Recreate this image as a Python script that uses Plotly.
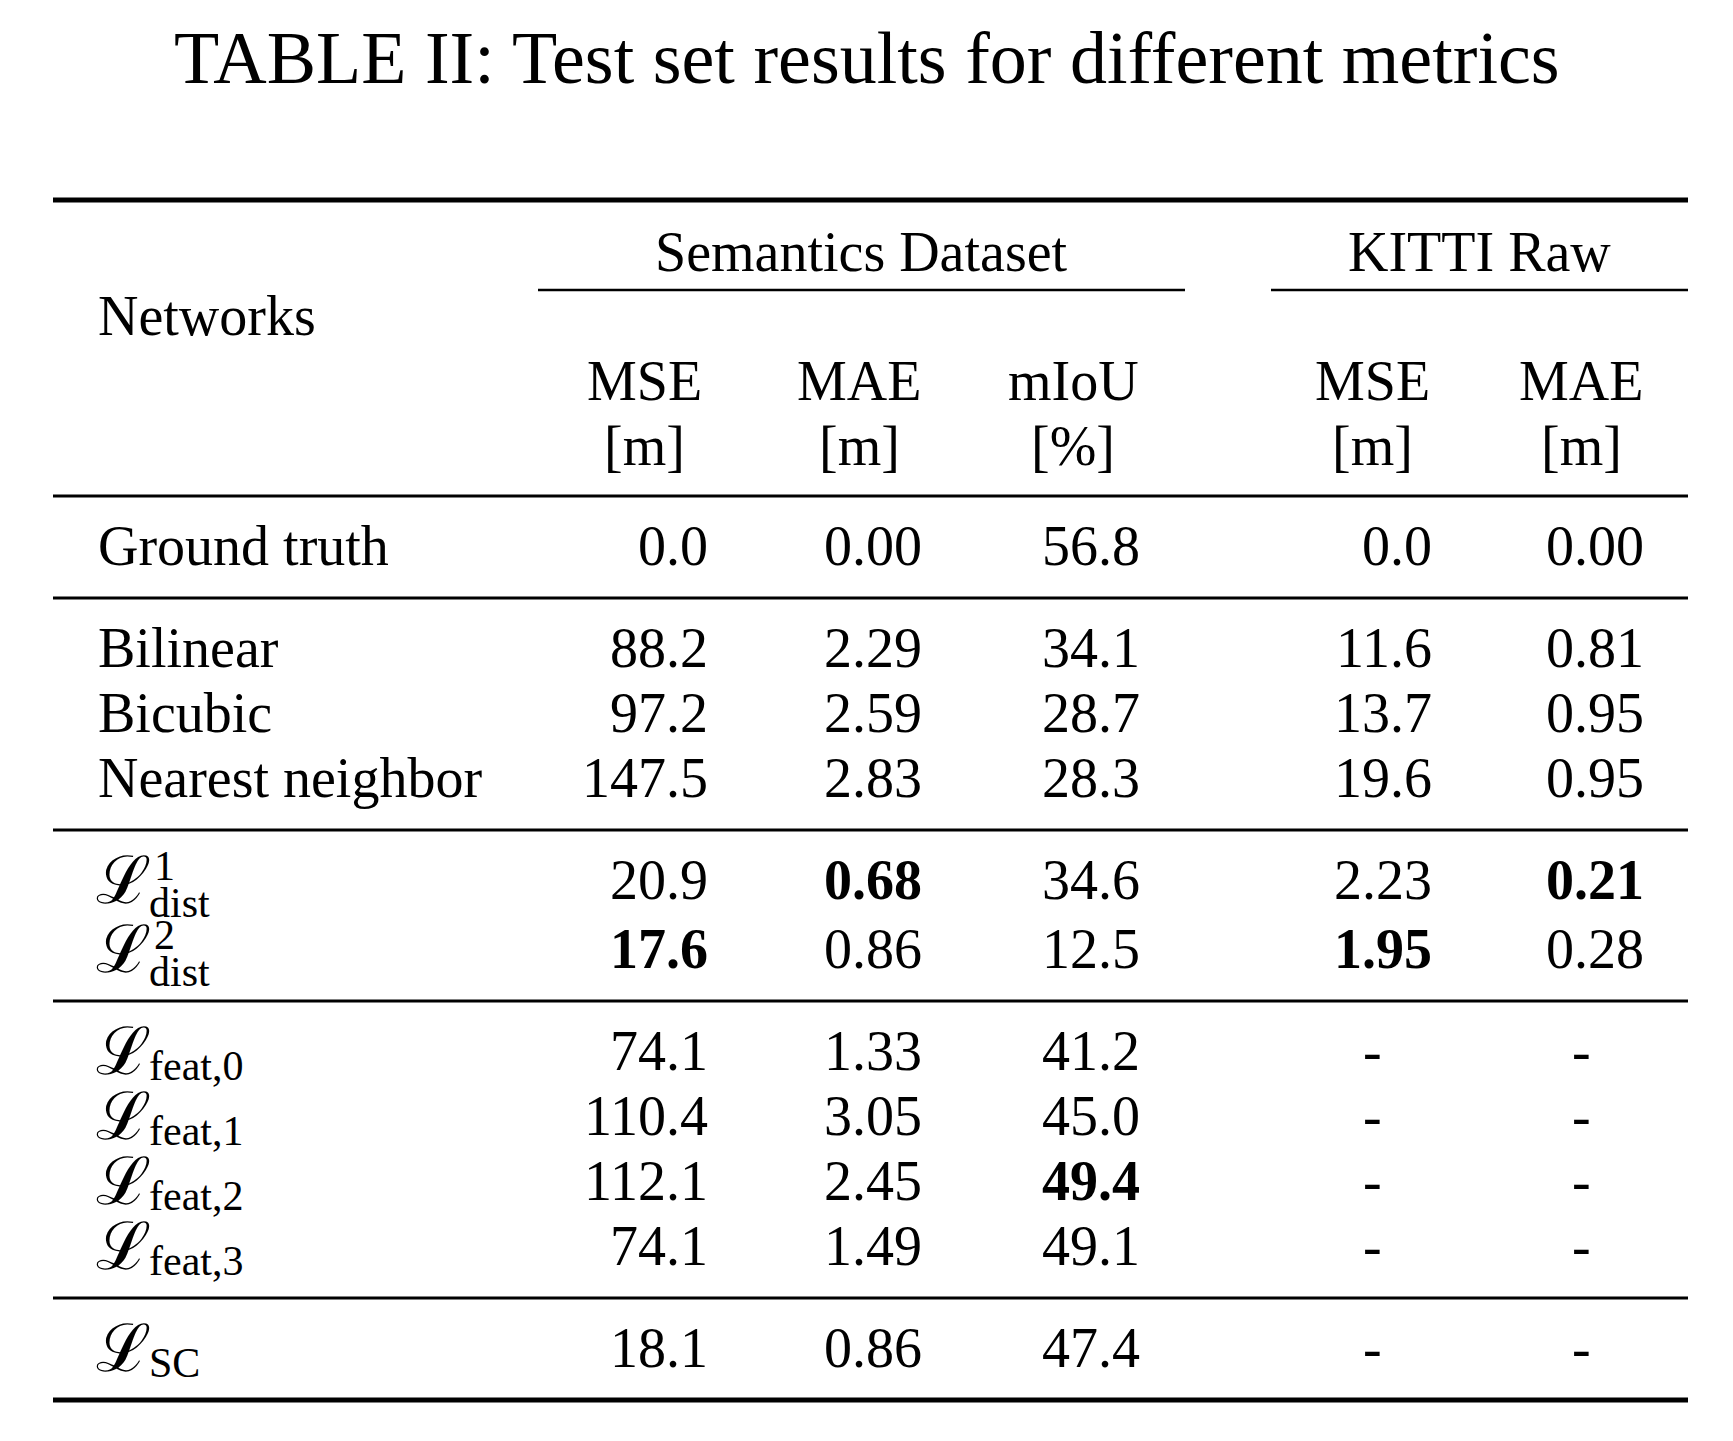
import plotly.graph_objects as go

W, H = 1733, 1441

title = "TABLE II: Test set results for different metrics"
group_headers = ["Semantics Dataset", "KITTI Raw"]
metric_names = ["MSE", "MAE", "mIoU", "MSE", "MAE"]
metric_units = ["[m]", "[m]", "[%]", "[m]", "[m]"]

# row labels: (base, superscript, subscript)
networks = [
    ("Ground truth", "", ""),
    ("Bilinear", "", ""),
    ("Bicubic", "", ""),
    ("Nearest neighbor", "", ""),
    ("ℒ", "1", "dist"),
    ("ℒ", "2", "dist"),
    ("ℒ", "", "feat,0"),
    ("ℒ", "", "feat,1"),
    ("ℒ", "", "feat,2"),
    ("ℒ", "", "feat,3"),
    ("ℒ", "", "SC"),
]
group_sizes = [1, 3, 2, 4, 1]

mse_sem = ["0.0", "88.2", "97.2", "147.5", "20.9", "17.6", "74.1", "110.4", "112.1", "74.1", "18.1"]
mae_sem = ["0.00", "2.29", "2.59", "2.83", "0.68", "0.86", "1.33", "3.05", "2.45", "1.49", "0.86"]
miou_sem = ["56.8", "34.1", "28.7", "28.3", "34.6", "12.5", "41.2", "45.0", "49.4", "49.1", "47.4"]
mse_kitti = ["0.0", "11.6", "13.7", "19.6", "2.23", "1.95", "-", "-", "-", "-", "-"]
mae_kitti = ["0.00", "0.81", "0.95", "0.95", "0.21", "0.28", "-", "-", "-", "-", "-"]
columns = [mse_sem, mae_sem, miou_sem, mse_kitti, mae_kitti]

# best results (row, column) shown in bold
best = [(4, 1), (4, 4), (5, 0), (5, 3), (8, 2)]

FONT = "Liberation Serif, Times New Roman, serif"
BODY = 56

# layout in page pixels
left, right = 53, 1688
label_x = 96
col_right = [710, 924, 1142, 1434, 1646]
col_center = [644, 859, 1073, 1372, 1581]
group_spans = [(538, 1185), (1271, 1688)]

fig = go.Figure()
ann = []
shapes = []


def rule(y, x0=left, x1=right, w=3.0):
    shapes.append(dict(type="line", xref="x", yref="y", x0=x0, x1=x1, y0=y, y1=y,
                       line=dict(color="black", width=w)))


def text(x, y, s, size=BODY, anchor="center", bold=False):
    if bold:
        s = "<b>" + s + "</b>"
    ann.append(dict(x=x, y=y, xref="x", yref="y", text=s, showarrow=False,
                    xanchor=anchor, yanchor="middle",
                    font=dict(family=FONT, size=size, color="black")))


# title
text(W / 2, 58, title, size=74)

# header
rule(200, w=5)
for name, (x0, x1) in zip(group_headers, group_spans):
    text((x0 + x1) / 2, 252, name)
    rule(290, x0, x1, w=2.5)
text(label_x, 316, "Networks", anchor="left")
for i in range(len(metric_names)):
    text(col_center[i], 381, metric_names[i])
    text(col_center[i], 446, metric_units[i])
rule(496)

# body rows
y = 496
r = 0
for gi, n in enumerate(group_sizes):
    row_h = 69 if n == 2 else 65
    y += 50
    for k in range(n):
        base, sup, sub = networks[r]
        if sub:
            # script L, then stacked sub/superscripts
            text(label_x - 2, y, base, size=66, anchor="left")
            text(label_x + 51, y + (23 if sup else 15), sub, size=42, anchor="left")
            if sup:
                text(label_x + 56, y - 14, sup, size=42, anchor="left")
        else:
            text(label_x, y, base, anchor="left")
        for c, vals in enumerate(columns):
            v = vals[r]
            if v == "-":
                text(col_center[c], y, v)
            else:
                text(col_right[c], y, v, anchor="right", bold=(r, c) in best)
        r += 1
        if k < n - 1:
            y += row_h
    y += 52
    rule(y, w=5 if gi == len(group_sizes) - 1 else 3)

# the page body has an 8px margin, so shrink the figure and offset the axes
fig.update_layout(
    width=W - 16, height=H - 16,
    margin=dict(l=0, r=0, t=0, b=0),
    plot_bgcolor="white", paper_bgcolor="white",
    xaxis=dict(range=[8, W - 8], visible=False, fixedrange=True),
    yaxis=dict(range=[H - 8, 8], visible=False, fixedrange=True),
    annotations=ann, shapes=shapes,
    showlegend=False,
)

fig.write_html("out.html")
